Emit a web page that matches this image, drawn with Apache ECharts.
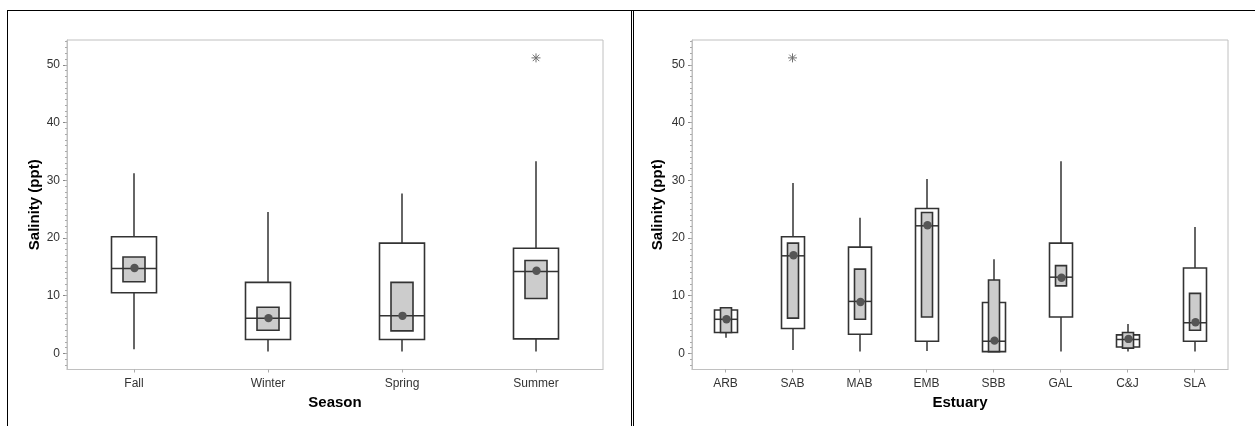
<!DOCTYPE html>
<html>
<head>
<meta charset="utf-8">
<script src="https://cdn.jsdelivr.net/npm/echarts@6/dist/echarts.min.js"></script>
<style>
html,body{margin:0;padding:0;background:#fff;}
#chart{width:1255px;height:426px;}
</style>
</head>
<body>
<div id="chart"></div>
<script>
// ---- Data: Season panel ----
var seasons = ['Fall', 'Winter', 'Spring', 'Summer'];
var seasonWhiskerLow  = [0.7, 0.3, 0.3, 0.3];
var seasonQ1          = [10.5, 2.4, 2.4, 2.5];
var seasonMedian      = [14.7, 6.1, 6.5, 14.2];
var seasonQ3          = [20.2, 12.3, 19.1, 18.2];
var seasonWhiskerHigh = [31.2, 24.5, 27.7, 33.3];
var seasonCiLow       = [12.4, 4.0, 3.9, 9.5];
var seasonCiHigh      = [16.7, 8.0, 12.3, 16.1];
var seasonMean        = [14.8, 6.1, 6.5, 14.3];
var seasonOutlierCat  = ['Summer'];
var seasonOutlierVal  = [51.2];

// ---- Data: Estuary panel ----
var estuaries = ['ARB', 'SAB', 'MAB', 'EMB', 'SBB', 'GAL', 'C&J', 'SLA'];
var estWhiskerLow  = [2.7, 0.6, 0.3, 0.4, 0.3, 0.3, 0.3, 0.3];
var estQ1          = [3.6, 4.3, 3.3, 2.1, 0.3, 6.3, 1.1, 2.1];
var estMedian      = [5.9, 16.9, 9.0, 22.1, 2.1, 13.2, 2.4, 5.3];
var estQ3          = [7.5, 20.2, 18.4, 25.1, 8.8, 19.1, 3.2, 14.8];
var estWhiskerHigh = [7.9, 29.5, 23.5, 30.2, 16.3, 33.3, 5.1, 21.9];
var estCiLow       = [3.6, 6.1, 5.9, 6.3, 0.3, 11.7, 0.9, 4.0];
var estCiHigh      = [7.9, 19.1, 14.6, 24.4, 12.7, 15.2, 3.6, 10.4];
var estMean        = [5.9, 17.0, 8.9, 22.2, 2.2, 13.1, 2.5, 5.4];
var estOutlierCat  = ['SAB'];
var estOutlierVal  = [51.2];

// ---- Axis ticks ----
var yMajorTicks = [0, 10, 20, 30, 40, 50];
var yMinorTicks = [];
for (var t = -2; t <= 54; t++) yMinorTicks.push(t);

var FONT = 'Arial, "Liberation Sans", sans-serif';
var STROKE = '#333333';

function buildRows(cats, wl, q1, med, q3, wh, cl, ch, mean) {
  return cats.map(function (c, i) {
    return [i, wl[i], q1[i], med[i], q3[i], wh[i], cl[i], ch[i], mean[i]];
  });
}

function makeBoxRender(boxRatio, ciRatio) {
  return function (params, api) {
    var idx = api.value(0);
    var bw = api.size([1, 0])[0];
    var boxW = Math.round(bw * boxRatio);
    var ciW = Math.round(bw * ciRatio);
    var pWL = api.coord([idx, api.value(1)]);
    var pQ1 = api.coord([idx, api.value(2)]);
    var pMed = api.coord([idx, api.value(3)]);
    var pQ3 = api.coord([idx, api.value(4)]);
    var pWH = api.coord([idx, api.value(5)]);
    var pCL = api.coord([idx, api.value(6)]);
    var pCH = api.coord([idx, api.value(7)]);
    var pMean = api.coord([idx, api.value(8)]);
    var cx = Math.round(pMed[0]);
    return {
      type: 'group',
      children: [
        { type: 'line', shape: { x1: cx, y1: pWL[1], x2: cx, y2: pWH[1] },
          style: { stroke: STROKE, lineWidth: 1.5 } },
        { type: 'rect', shape: { x: cx - boxW / 2, y: pQ3[1], width: boxW, height: pQ1[1] - pQ3[1] },
          style: { fill: '#ffffff', stroke: STROKE, lineWidth: 1.6 } },
        { type: 'rect', shape: { x: cx - ciW / 2, y: pCH[1], width: ciW, height: pCL[1] - pCH[1] },
          style: { fill: '#cccccc', stroke: STROKE, lineWidth: 1.6 } },
        { type: 'line', shape: { x1: cx - boxW / 2, y1: pMed[1], x2: cx + boxW / 2, y2: pMed[1] },
          style: { stroke: STROKE, lineWidth: 1.5 } },
        { type: 'circle', shape: { cx: cx + 0.5, cy: pMean[1], r: 4.2 },
          style: { fill: '#555555' } }
      ]
    };
  };
}

function starRender(params, api) {
  var p = api.coord([api.value(0), api.value(1)]);
  var r = 4.5;
  var d = r * 0.72;
  var st = { stroke: '#707070', lineWidth: 1 };
  return {
    type: 'group',
    children: [
      { type: 'line', shape: { x1: p[0] - r, y1: p[1], x2: p[0] + r, y2: p[1] }, style: st },
      { type: 'line', shape: { x1: p[0], y1: p[1] - r, x2: p[0], y2: p[1] + r }, style: st },
      { type: 'line', shape: { x1: p[0] - d, y1: p[1] - d, x2: p[0] + d, y2: p[1] + d }, style: st },
      { type: 'line', shape: { x1: p[0] - d, y1: p[1] + d, x2: p[0] + d, y2: p[1] - d }, style: st }
    ]
  };
}

var Y_MIN = -2.8, Y_MAX = 54.3;

function yAxesFor(gridIndex, nameGap) {
  return [
    {
      gridIndex: gridIndex, type: 'value', position: 'left', min: Y_MIN, max: Y_MAX,
      name: 'Salinity (ppt)', nameLocation: 'middle', nameGap: nameGap,
      nameTextStyle: { fontFamily: FONT, fontSize: 15, fontWeight: 'bold', color: '#000' },
      axisLine: { show: true, lineStyle: { color: '#c0c0c0', width: 1 } },
      axisTick: { show: true, customValues: yMajorTicks, length: 4, lineStyle: { color: '#888' } },
      axisLabel: { customValues: yMajorTicks, margin: 7, fontFamily: FONT, fontSize: 12, color: '#333' },
      splitLine: { show: false }
    },
    {
      gridIndex: gridIndex, type: 'value', position: 'left', offset: 0, min: Y_MIN, max: Y_MAX,
      axisLine: { show: false },
      axisTick: { show: true, customValues: yMinorTicks, length: 2, lineStyle: { color: '#aaaaaa' } },
      axisLabel: { show: false },
      splitLine: { show: false }
    }
  ];
}

function xAxisFor(gridIndex, cats, name) {
  return {
    gridIndex: gridIndex, type: 'category', data: cats, boundaryGap: true,
    name: name, nameLocation: 'middle', nameGap: 26,
    nameTextStyle: { fontFamily: FONT, fontSize: 15, fontWeight: 'bold', color: '#000' },
    axisLine: { show: true, onZero: false, lineStyle: { color: '#c0c0c0', width: 1 } },
    axisTick: { show: true, alignWithLabel: true, length: 3, lineStyle: { color: '#aaaaaa' } },
    axisLabel: { margin: 8, fontFamily: FONT, fontSize: 12, color: '#333' },
    splitLine: { show: false }
  };
}

var chart = echarts.init(document.getElementById('chart'), null, { renderer: 'canvas' });
var yAxes = yAxesFor(0, 25).concat(yAxesFor(1, 27));

chart.setOption({
  animation: false,
  backgroundColor: '#ffffff',
  grid: [
    { left: 67, top: 40, width: 536, height: 329.5, show: true, borderColor: '#c0c0c0', borderWidth: 1, backgroundColor: 'transparent' },
    { left: 692, top: 40, width: 536, height: 329.5, show: true, borderColor: '#c0c0c0', borderWidth: 1, backgroundColor: 'transparent' }
  ],
  xAxis: [xAxisFor(0, seasons, 'Season'), xAxisFor(1, estuaries, 'Estuary')],
  yAxis: yAxes,
  series: [
    {
      type: 'custom', xAxisIndex: 0, yAxisIndex: 0,
      renderItem: makeBoxRender(0.333, 0.162),
      encode: { x: 0, y: [1, 2, 3, 4, 5, 6, 7, 8] },
      data: buildRows(seasons, seasonWhiskerLow, seasonQ1, seasonMedian, seasonQ3, seasonWhiskerHigh, seasonCiLow, seasonCiHigh, seasonMean)
    },
    {
      type: 'custom', xAxisIndex: 0, yAxisIndex: 0,
      renderItem: starRender,
      encode: { x: 0, y: 1 },
      data: seasonOutlierCat.map(function (c, i) { return [seasons.indexOf(c), seasonOutlierVal[i]]; })
    },
    {
      type: 'custom', xAxisIndex: 1, yAxisIndex: 2,
      renderItem: makeBoxRender(0.345, 0.162),
      encode: { x: 0, y: [1, 2, 3, 4, 5, 6, 7, 8] },
      data: buildRows(estuaries, estWhiskerLow, estQ1, estMedian, estQ3, estWhiskerHigh, estCiLow, estCiHigh, estMean)
    },
    {
      type: 'custom', xAxisIndex: 1, yAxisIndex: 2,
      renderItem: starRender,
      encode: { x: 0, y: 1 },
      data: estOutlierCat.map(function (c, i) { return [estuaries.indexOf(c), estOutlierVal[i]]; })
    }
  ],
  graphic: [
    { type: 'line', shape: { x1: 7, y1: 10.5, x2: 1255, y2: 10.5 }, style: { stroke: '#000', lineWidth: 1 } },
    { type: 'line', shape: { x1: 7.5, y1: 10, x2: 7.5, y2: 426 }, style: { stroke: '#000', lineWidth: 1 } },
    { type: 'line', shape: { x1: 631.5, y1: 10, x2: 631.5, y2: 426 }, style: { stroke: '#000', lineWidth: 1 } },
    { type: 'line', shape: { x1: 633.5, y1: 10, x2: 633.5, y2: 426 }, style: { stroke: '#000', lineWidth: 1 } }
  ]
});
</script>
</body>
</html>
